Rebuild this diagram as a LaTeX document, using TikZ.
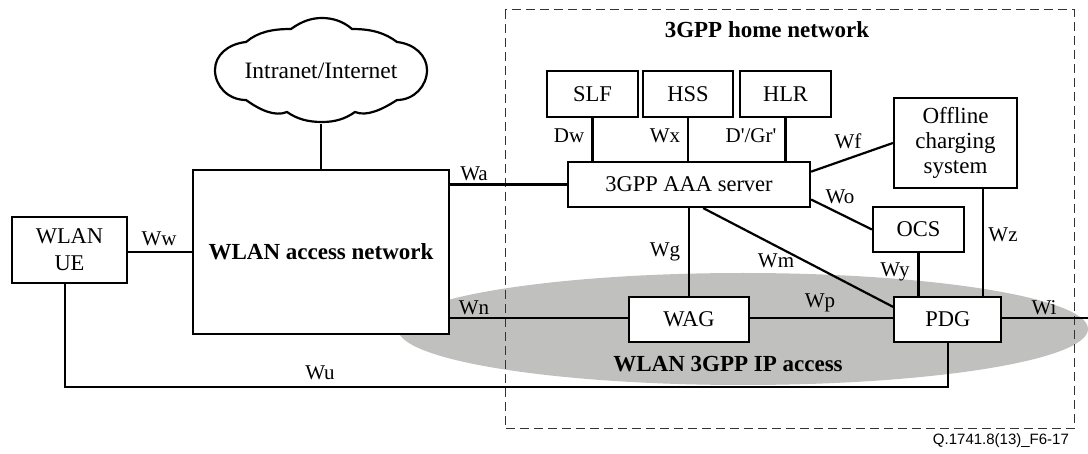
\documentclass[tikz,border=0pt]{standalone}
\usepackage{fontspec}
\setmainfont{Liberation Serif}
\newfontfamily\captionfont{Liberation Sans}
\usetikzlibrary{positioning}
\definecolor{accessgray}{RGB}{192,192,190}

\begin{document}
\begin{tikzpicture}[x=1pt,y=-1pt,line width=2.2pt,
    every node/.style={font=\fontsize{21}{24}\selectfont},
    box/.style={draw,fill=white,inner sep=0pt,align=center,font=\fontsize{22.5}{25}\selectfont},
    lbl/.style={inner sep=0pt},
    heading/.style={inner sep=0pt,font=\fontsize{23}{26}\selectfont\bfseries}]

        \useasboundingbox (0,0) rectangle (1088,454);

        \fill[accessgray] (743,329) ellipse (345 and 56);
        \draw[line width=1pt,dash pattern=on 9pt off 5pt,black!80] (505,10) rectangle (1074,429);

        \draw[fill=white] (246,42) .. controls (258,32) and (272,29) .. (291,29)
            .. controls (302,21) and (312,18) .. (322,18)
            .. controls (332,18) and (343,21) .. (352,29)
            .. controls (372,29) and (385,33) .. (397,42)
            .. controls (415,44) and (427,56) .. (427,70)
            .. controls (427,86) and (414,100) .. (397,100)
            .. controls (383,109) and (367,117) .. (355,112)
            .. controls (345,119) and (335,122) .. (322,122)
            .. controls (308,122) and (297,119) .. (287,112)
            .. controls (275,117) and (260,110) .. (246,100)
            .. controls (228,100) and (215,86) .. (215,70)
            .. controls (215,55) and (228,44) .. (246,42) -- cycle;

        \node[lbl,minimum width=212pt,minimum height=104pt,font=\fontsize{23.5}{26}\selectfont] (cloud) at (321,71) {Intranet/Internet};
        \node[box,line width=1.2pt,minimum width=256pt,minimum height=164pt,font=\fontsize{23}{26}\selectfont\bfseries] (wlan) at (321,252) {WLAN access network};
        \node[box,minimum width=115pt,minimum height=66pt,font=\fontsize{22.5}{27}\selectfont] (ue) at (69.5,250) {WLAN\\UE};

        \node[box,minimum width=91pt,minimum height=46pt] (slf) at (592.5,94) {SLF};
        \node[box,minimum width=90pt,minimum height=46pt] (hss) at (688,94) {HSS};
        \node[box,minimum width=91pt,minimum height=46pt] (hlr) at (785.5,94) {HLR};
        \node[box,minimum width=242pt,minimum height=45pt] (aaa) at (689,184.5) {3GPP AAA server};
        \node[box,minimum width=123pt,minimum height=90pt,font=\fontsize{23}{25}\selectfont] (offline) at (955.5,143) {Offline\\charging\\system};
        \node[box,minimum width=91pt,minimum height=45pt] (ocs) at (918.5,229.5) {OCS};
        \node[box,minimum width=120pt,minimum height=45pt] (wag) at (689,319.5) {WAG};
        \node[box,minimum width=107pt,minimum height=45pt] (pdg) at (947.75,319.5) {PDG};

        \coordinate (wi) at (1088,318);
        \coordinate (wu) at (65,387);

        \draw (cloud.south) -- (wlan.north);
        \draw (ue.east |- wlan) -- (wlan.west);
        \draw (wlan.east |- aaa) -- (aaa.west);
        \draw (wlan.east |- wi) -- (wag.west |- wi);
        \draw (wag.east |- wi) -- (pdg.west |- wi);
        \draw (pdg.east |- wi) -- (wi);
        \draw (wu |- ue.south) -- (wu) -- (pdg.south |- wu) -- (pdg.south);

        \draw (slf.south) -- (slf.south |- aaa.north);
        \draw (hss.south) -- (hss.south |- aaa.north);
        \draw (hlr.south) -- (hlr.south |- aaa.north);
        \draw (aaa.south) -- (wag.north);
        \draw (aaa.6) -- (offline.west);
        \draw (aaa.-7) -- (ocs.west);
        \draw (aaa.-59) -- (pdg.167);
        \draw (ocs.south) -- (ocs.south |- pdg.north);
        \draw (offline.-59.5) -- (offline.-59.5 |- pdg.north);

        \node[lbl] (lblww) at (159,239) {Ww};
        \node[lbl] (lblwa) at (474,174) {Wa};
        \node[lbl] (lblwn) at (474,308) {Wn};
        \node[lbl] (lblwu) at (320,373) {Wu};
        \node[lbl] (lbldw) at (569,136) {Dw};
        \node[lbl] (lblwx) at (665,136) {Wx};
        \node[lbl] (lbldgr) at (751,136) {D\textquotesingle/Gr\textquotesingle};
        \node[lbl] (lblwf) at (848,141) {Wf};
        \node[lbl] (lblwo) at (840,197) {Wo};
        \node[lbl] (lblwz) at (1003,235) {Wz};
        \node[lbl] (lblwy) at (895,272) {Wy};
        \node[lbl] (lblwg) at (665,252) {Wg};
        \node[lbl] (lblwm) at (776,261) {Wm};
        \node[lbl] (lblwp) at (820,303) {Wp};
        \node[lbl] (lblwi) at (1044,308) {Wi};

        \node[heading] (home) at (767,30) {3GPP home network};
        \node[heading] (access) at (728,364) {WLAN 3GPP IP access};
        \node[lbl,font=\captionfont\fontsize{15}{18}\selectfont,anchor=east] (figid) at (1070,441) {Q.1741.8(13)\_F6-17};

      \end{tikzpicture}
\end{document}
